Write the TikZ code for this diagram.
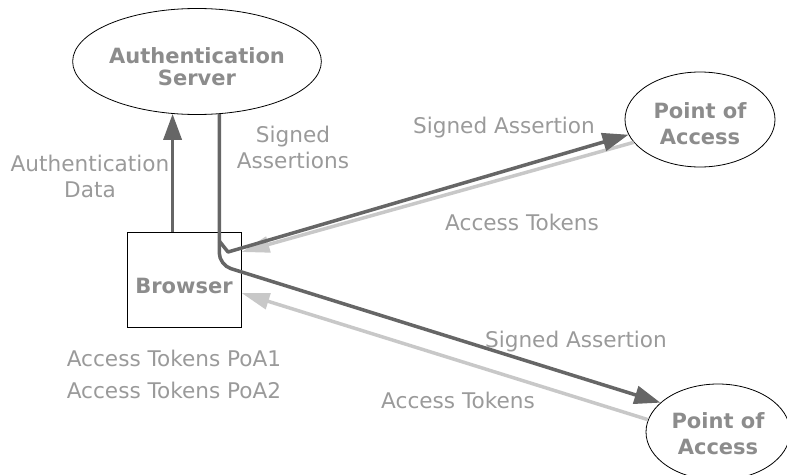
\documentclass[tikz,border=0pt]{standalone}
\usepackage{fontspec}
\setmainfont{DejaVu Sans}
\usetikzlibrary{shapes.geometric,arrows.meta,calc}
\definecolor{darkln}{HTML}{666666}
\definecolor{lightln}{HTML}{C8C8C8}
\definecolor{txt}{HTML}{9A9A9A}
\definecolor{btxt}{HTML}{8C8C8C}
\newcommand{\twoline}[4]{\raisebox{#1}[0pt][0pt]{\begin{tabular}{@{}c@{}}#2\\[#4]#3\end{tabular}}}
\begin{document}
\begin{tikzpicture}[x=1pt,y=-1pt,
  every node/.style={font=\fontsize{21.6}{26}\selectfont, text=txt, inner sep=0pt},
  oval/.style={ellipse, draw=black, line width=0.8pt, font=\fontsize{21}{26}\selectfont\bfseries, text=btxt},
  box/.style={rectangle, draw=black, line width=1pt, font=\fontsize{21}{26}\selectfont\bfseries, text=btxt},
  darkarr/.style={draw=darkln, line width=3.5pt, line join=round, -{Triangle[length=26pt,width=18pt]}},
  lightarr/.style={draw=lightln, line width=3.5pt, -{Triangle[length=28pt,width=16pt]}},
  lbl/.style={align=center}
]
\useasboundingbox (0,0) rectangle (787,474);
% shapes
\node[oval, minimum width=218pt, minimum height=106pt] (as) at (197,61.5)
  {\twoline{-12.75pt}{Authentication}{Server}{-4pt}};
\node[oval, minimum width=150pt, minimum height=95pt] (poa1) at (700,119.5)
  {\twoline{-11.75pt}{Point of}{Access}{0pt}};
\node[oval, minimum width=144pt, minimum height=96pt] (poa2) at (718,432)
  {\twoline{-9.25pt}{Point of}{Access}{0pt}};
\node[box, minimum width=114pt, minimum height=95pt] (browser) at (184,279.5)
  {\raisebox{-14pt}[0pt][0pt]{Browser}};
% labels
\node[lbl] (lad) at (90,176) {Authentication\\Data};
\node[lbl] (lsas) at (293,147) {Signed\\Assertions};
\node (lsa1) at (504,128) {Signed Assertion};
\node (lat1) at (522,222) {Access Tokens};
\node[lbl] (ltok) at (174,374) {Access Tokens PoA1\\[6pt]Access Tokens PoA2};
\node (lsa2) at (576,342) {Signed Assertion};
\node (lat2) at (458,400) {Access Tokens};
% helper coordinates
\coordinate (bend) at (0,265);
\coordinate (vtop) at (0,241);
\coordinate (vbot) at (228,252);
% connectors
\draw[lightarr] (poa1.199) -- ($(browser.east)+(0,-27.5)$);
\draw[lightarr] (poa2.170) -- ($(browser.east)+(0,13.5)$);
\draw[darkarr] (as.245 |- browser.north) -- (as.245);
\draw[darkarr, rounded corners=12pt] (as.293) -- (as.293 |- bend) -- (poa2.153);
\draw[darkarr] (as.293 |- vtop) -- (vbot) -- (poa1.192);
\end{tikzpicture}
\end{document}
